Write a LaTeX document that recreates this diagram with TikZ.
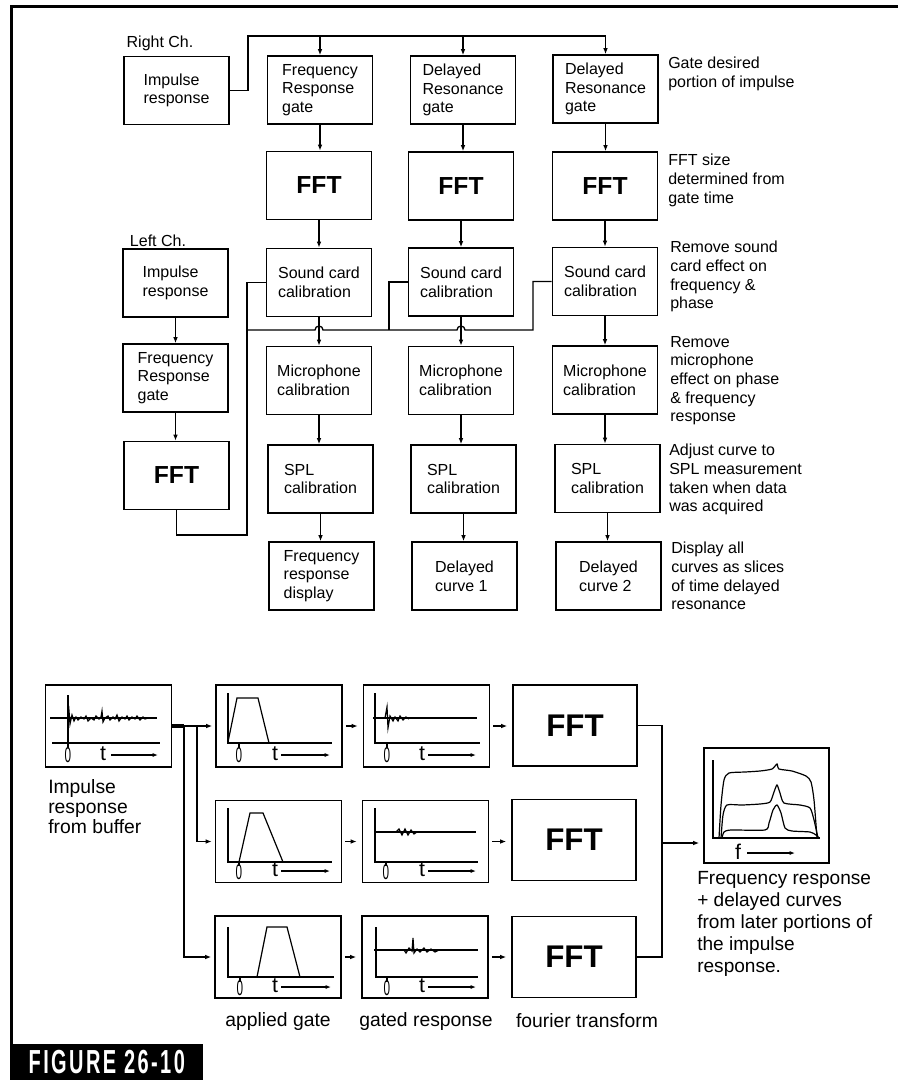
\documentclass[tikz,border=0pt]{standalone}
\usepackage{fontspec}
\setmainfont{Liberation Sans}
\usetikzlibrary{arrows.meta,calc}
\newcommand\boxfont{\fontsize{12}{14}\selectfont}
\newcommand\fftfont{\fontsize{18.5}{22}\selectfont\bfseries}
\newcommand\bigfftfont{\fontsize{23.5}{26}\selectfont\bfseries}
\newcommand\capfont{\fontsize{14.5}{15}\selectfont}
\newcommand\tfont{\fontsize{16}{16}\selectfont}
\newcommand\specfont{\fontsize{14.3}{16.5}\selectfont}
\newcommand\figfont{\fontsize{25}{27}\selectfont\bfseries\addfontfeature{LetterSpace=12}}
\begin{document}
\begin{tikzpicture}[x=0.75pt,y=-0.75pt,
  box/.style={draw,line width=1.2pt,minimum width=78.75pt,minimum height=51pt,inner sep=0pt,align=left,font=\boxfont},
  fftbox/.style={box,font=\fftfont},
  note/.style={anchor=north west,align=left,inner sep=0pt,font=\boxfont},
  wire/.style={line width=1pt},
  arr/.style={wire,-{Latex[length=4.5pt,width=3.5pt]}},
  plotbox/.style={draw,line width=1.2pt,minimum width=94.5pt,minimum height=61.5pt,inner sep=0pt},
  bigfft/.style={draw,line width=1.2pt,minimum width=93pt,minimum height=60.75pt,inner sep=0pt,font=\bigfftfont},
  trace/.style={line width=0.9pt},
  tarr/.style={trace,-{Latex[length=4pt,width=3pt]}},
  tlab/.style={inner sep=0pt,font=\tfont},
  zero/.style={inner sep=0pt,font=\tfont},
  caplab/.style={inner sep=0pt,align=left,font=\capfont}]
\useasboundingbox (0,0) rectangle (898,1080);
\draw[line width=2.4pt] (898,6.5) -- (11.5,6.5) -- (11.5,1044);

\node[inner sep=0pt,font=\boxfont] (rlab) at (160,43) {Right Ch.};
\node[inner sep=0pt,font=\boxfont] (llab) at (158,241) {Left Ch.};

\node[box] (rimp) at (176.5,90.5) {Impulse\\response};
\node[box] (g1) at (320,90) {Frequency\\Response\\gate};
\node[box] (g2) at (463,90) {Delayed\\Resonance\\gate};
\node[box] (g3) at (605.5,89) {Delayed\\Resonance\\gate};
\node[fftbox] (f1) at (319,185.5) {FFT};
\node[fftbox] (f2) at (461,186) {FFT};
\node[fftbox] (f3) at (605,186) {FFT};
\node[box] (s1) at (319,282.5) {Sound card\\calibration};
\node[box] (s2) at (461,282) {Sound card\\calibration};
\node[box] (s3) at (605,281.5) {Sound card\\calibration};
\node[box] (m1) at (319,380.5) {Microphone\\calibration};
\node[box] (m2) at (461,380.5) {Microphone\\calibration};
\node[box] (m3) at (605,380) {Microphone\\calibration};
\node[box] (p1) at (320.5,479) {SPL\\calibration};
\node[box] (p2) at (463.5,479) {SPL\\calibration};
\node[box] (p3) at (607.5,478.5) {SPL\\calibration};
\node[box] (d1) at (321.5,576) {Frequency\\response\\display};
\node[box] (d2) at (464.5,576) {Delayed\\curve 1};
\node[box] (d3) at (608.5,576) {Delayed\\curve 2};

\node[box] (limp) at (175.5,283) {Impulse\\response};
\node[box] (lg) at (175.5,378) {Frequency\\Response\\gate};
\node[fftbox] (lf) at (176.5,475.5) {FFT};

\node[note] (n1) at (668,57) {Gate desired\\portion of impulse};
\node[note] (n2) at (668,154) {FFT size\\determined from\\gate time};
\node[note] (n3) at (670,241) {Remove sound\\card effect on\\frequency \&\\phase};
\node[note] (n4) at (670,336) {Remove\\microphone\\effect on phase\\\& frequency\\response};
\node[note] (n5) at (669,444) {Adjust curve to\\SPL measurement\\taken when data\\was acquired};
\node[note] (n6) at (671,542) {Display all\\curves as slices\\of time delayed\\resonance};

\coordinate (rbus) at (248,36);
\draw[wire] (rimp.east) -| (rbus) -- (rbus -| g3.north);
\foreach \c in {1,2,3}{
  \draw[arr] (rbus -| g\c.north) -- (g\c.north);
  \draw[arr] (g\c.south) -- (g\c.south |- f\c.north);
  \draw[arr] (f\c.south) -- (f\c.south |- s\c.north);
  \draw[arr] (s\c.south) -- (s\c.south |- m\c.north);
  \draw[arr] (m\c.south) -- (m\c.south |- p\c.north);
  \draw[arr] (p\c.south) -- (p\c.south |- d\c.north);
}
\draw[arr] (limp.south) -- (limp.south |- lg.north);
\draw[arr] (lg.south) -- (lg.south |- lf.north);

\coordinate (lturn) at (247,535);
\coordinate (lbus) at (247,330);
\coordinate (b2) at (389,330);
\coordinate (b3) at (533,330);
\draw[wire] (lf.south) |- (lturn) |- (s1.west);
\draw[wire] (lbus) -- ($(lbus -| s1.south)+(-4,0)$) arc[start angle=180,end angle=360,radius=4]
  -- ($(lbus -| s2.south)+(-4,0)$) arc[start angle=180,end angle=360,radius=4]
  -- (b3) |- (s3.west);
\draw[wire] (b2) |- (s2.west);

\node[plotbox] (buf) at (108.5,726) {};
\node[plotbox] (ga1) at (279,726) {};
\node[plotbox] (ga2) at (278.5,841.5) {};
\node[plotbox] (ga3) at (278,957) {};
\node[plotbox] (gr1) at (426.5,726) {};
\node[plotbox] (gr2) at (425.5,841.5) {};
\node[plotbox] (gr3) at (425,957) {};
\node[bigfft] (ft1) at (575,725.5) {FFT};
\node[bigfft] (ft2) at (574,840) {FFT};
\node[bigfft] (ft3) at (574,957) {FFT};
\node[plotbox,minimum width=93.75pt,minimum height=86.25pt] (spec) at (766.5,805.5) {};

\coordinate (j3) at (184,726);
\coordinate (j2) at (197,726);
\draw[line width=2.6pt] (buf.east) -- (j3);
\draw[arr,shorten >=2.25pt] (buf.east) -- (ga1.west);
\draw[arr,shorten >=2.25pt] (j2) |- (ga2.west);
\draw[arr,shorten >=2.25pt] (j3) |- (ga3.west);
\foreach \r in {1,2,3}{
  \draw[arr,shorten <=2.25pt,shorten >=3.75pt] (ga\r.east) -- (gr\r.west);
  \draw[arr,shorten <=2.25pt,shorten >=3.75pt] (gr\r.east) -- (gr\r.east -| ft\r.west);
}
\coordinate (fbus) at (662,843);
\draw[wire] (ft1.east) -| (fbus) |- (ft3.east);
\draw[arr,shorten >=3pt] (fbus) -- (fbus -| spec.west);

% impulse from buffer
\draw[trace] (68,695) -- (68,743);
\draw[trace] (52,743) -- (160,743);
\draw[trace] (50,718) -- (157,718);
\draw[trace] plot coordinates {(68,718) (69,711) (70,724) (72,715) (74,721) (76,717) (78,720) (81,717) (84,719) (86,716) (88,721) (91,718) (94,720) (96,716) (99,719) (101,717) (102,711) (103,722) (105,718) (108,716) (110,720) (113,717) (115,719) (117,715) (119,721) (122,717) (125,719) (127,716) (129,720) (132,717) (135,719) (137,716) (140,720) (143,717) (145,719) (148,718)};
\draw[trace] (68,743) -- (68,748);
\node[zero] at (68,755) {\scalebox{0.55}[1]{0}};
\node[tlab] at (103,754) {t};
\draw[tarr] (111,755) -- (158,755);

% applied gates
\draw[trace] (228,693) -- (228,743) -- (332,743);
\draw[trace] (228,742) -- (237,698) -- (258,698) -- (269,743);
\draw[trace] (239,743) -- (239,748);
\node[zero] at (239,755) {\scalebox{0.55}[1]{0}};
\node[tlab] at (275,754) {t};
\draw[tarr] (281,755) -- (330,755);

\draw[trace] (228,808) -- (228,862) -- (332,862);
\draw[trace] (239,862) -- (250,813) -- (263,813) -- (283,862);
\draw[trace] (239,862) -- (239,866);
\node[zero] at (239,872) {\scalebox{0.55}[1]{0}};
\node[tlab] at (275,870) {t};
\draw[tarr] (281,871) -- (330,871);

\draw[trace] (228,927) -- (228,977) -- (334,977);
\draw[trace] (257,977) -- (267,927) -- (287,927) -- (300,977);
\draw[trace] (240,977) -- (240,982);
\node[zero] at (240,988) {\scalebox{0.55}[1]{0}};
\node[tlab] at (275,986) {t};
\draw[tarr] (281,987) -- (331,987);

% gated responses
\draw[trace] (375,693) -- (375,743) -- (480,743);
\draw[trace] (373,718) -- (477,718);
\draw[trace] plot coordinates {(385,718) (387,707) (388,728) (390,716) (393,721) (395,717) (398,721) (400,716) (403,720) (406,717) (409,719)};
\draw[trace] (387,743) -- (387,748);
\node[zero] at (387,755) {\scalebox{0.55}[1]{0}};
\node[tlab] at (422,754) {t};
\draw[tarr] (428,755) -- (476,755);

\draw[trace] (375,808) -- (375,862) -- (478,862);
\draw[trace] (375,832) -- (476,832);
\draw[trace] plot coordinates {(396,832) (399,829) (402,835) (405,829) (408,835) (411,830) (414,834) (417,832)};
\draw[trace] (386,862) -- (386,866);
\node[zero] at (386,872) {\scalebox{0.55}[1]{0}};
\node[tlab] at (422,870) {t};
\draw[tarr] (428,871) -- (476,871);

\draw[trace] (376,927) -- (376,977) -- (478,977);
\draw[trace] (374,950) -- (478,950);
\draw[trace] plot coordinates {(404,950) (406,953) (409,948) (412,951) (413,938) (414,953) (417,949) (420,952) (424,948) (427,952) (431,949) (435,952) (439,950)};
\draw[trace] (387,977) -- (387,982);
\node[zero] at (387,988) {\scalebox{0.55}[1]{0}};
\node[tlab] at (422,986) {t};
\draw[tarr] (428,987) -- (476,987);

% spectrum
\draw[trace] (713,760) -- (713,838) -- (820,838);
\draw[trace] plot[smooth,tension=0.4] coordinates {(719,838) (721,805) (724,780) (729,773) (745,772) (760,771) (772,769) (777,764) (779,769) (792,771) (806,776) (811,782) (814,800) (817,838)};
\draw[trace] plot[smooth,tension=0.4] coordinates {(721,838) (723,815) (727,805) (742,805) (760,804) (770,802) (774,792) (777,785) (780,793) (784,803) (800,805) (810,808) (814,820) (818,838)};
\draw[trace] plot[smooth,tension=0.4] coordinates {(722,838) (724,832) (731,830) (765,830) (769,823) (773,810) (777,805) (781,813) (785,828) (792,831) (810,832) (816,835) (819,838)};
\node[tlab] at (738,852) {f};
\draw[tarr] (747,853) -- (795,853);

\node[caplab,anchor=north west] (buflab) at (48,779) {Impulse\\response\\from buffer};
\node[caplab] (galab) at (278,1021) {applied gate};
\node[caplab] (grlab) at (426,1021) {gated response};
\node[caplab] (ftlab) at (587,1021) {fourier transform};
\node[caplab,anchor=north west,font=\specfont] (speclab) at (697,871) {Frequency response\\+ delayed curves\\from later portions of\\the impulse\\response.};

\node[fill=black,text=white,minimum width=144.75pt,minimum height=27pt,anchor=north west,inner sep=0pt,font=\figfont] (fig) at (10,1044) {\scalebox{0.6}[1]{FIGURE 26-10}};
\end{tikzpicture}
\end{document}
